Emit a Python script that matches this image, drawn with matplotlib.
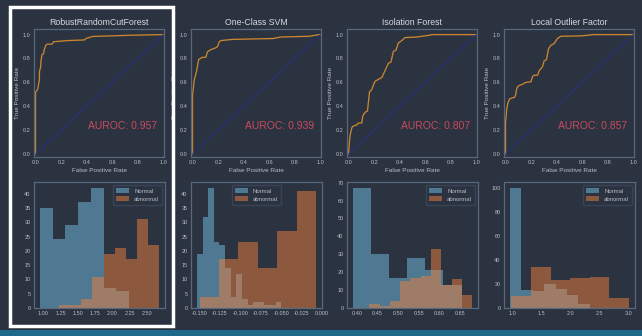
import numpy as np
import matplotlib.pyplot as plt
from matplotlib.patches import Rectangle

plt.rcParams['font.family'] = ['Liberation Sans', 'DejaVu Sans']

BG = '#2b3341'
TXT = '#b8bdc6'
SPINE = '#5a687c'

names = ["RobustRandomCutForest", "One-Class SVM", "Isolation Forest", "Local Outlier Factor"]
aurocs = [0.957, 0.939, 0.807, 0.857]

# ROC curves
fpr_rrcf = [0, 0, 0.01, 0.016, 0.02, 0.023, 0.03, 0.031, 0.04, 0.042, 0.05, 0.062, 0.07, 0.08,
            0.09, 0.13, 0.14, 0.25, 0.38, 0.40, 0.45, 0.61, 0.75, 1.0]
tpr_rrcf = [0, 0.52, 0.53, 0.54, 0.56, 0.58, 0.62, 0.69, 0.73, 0.77, 0.83, 0.84, 0.88, 0.91,
            0.92, 0.92, 0.94, 0.95, 0.955, 0.97, 0.985, 0.99, 0.995, 1.0]
fpr_svm = [0, 0, 0.005, 0.013, 0.021, 0.031, 0.039, 0.047, 0.06, 0.078, 0.104, 0.117, 0.144,
           0.183, 0.196, 0.209, 0.222, 0.313, 0.627, 0.692, 0.914, 0.99, 1.0]
tpr_svm = [0, 0.50, 0.535, 0.62, 0.65, 0.69, 0.74, 0.79, 0.80, 0.81, 0.81, 0.856, 0.875,
           0.89, 0.90, 0.94, 0.95, 0.96, 0.967, 0.98, 0.986, 1.0, 1.0]
fpr_if = [0, 0.008, 0.013, 0.026, 0.031, 0.065, 0.078, 0.104, 0.112, 0.13, 0.148, 0.164, 0.182,
          0.195, 0.208, 0.242, 0.26, 0.286, 0.312, 0.332, 0.351, 0.371, 0.39, 0.416, 0.442,
          0.532, 0.636, 0.649, 1.0]
tpr_if = [0, 0.12, 0.16, 0.22, 0.23, 0.245, 0.26, 0.26, 0.32, 0.35, 0.36, 0.52, 0.54,
          0.58, 0.61, 0.63, 0.64, 0.70, 0.76, 0.77, 0.86, 0.87, 0.93, 0.95, 0.975,
          0.98, 0.995, 1.0, 1.0]
fpr_lof = [0, 0, 0.01, 0.018, 0.031, 0.044, 0.07, 0.078, 0.088, 0.10, 0.134, 0.16, 0.199, 0.212,
           0.225, 0.251, 0.264, 0.289, 0.302, 0.32, 0.336, 0.354, 0.38, 0.406, 0.432, 0.587,
           0.69, 1.0]
tpr_lof = [0, 0.26, 0.38, 0.425, 0.46, 0.467, 0.475, 0.49, 0.55, 0.57, 0.585, 0.60, 0.605, 0.65,
           0.66, 0.66, 0.70, 0.73, 0.78, 0.79, 0.88, 0.91, 0.925, 0.967, 0.986, 0.989,
           1.0, 1.0]

# score histograms: bin edges and counts
n_edges_rrcf = [0.951, 1.135, 1.319, 1.503, 1.687, 1.871, 2.055, 2.239]
n_counts_rrcf = [35, 24, 29, 37, 42, 7, 6]
a_edges_rrcf = [1.228, 1.389, 1.550, 1.710, 1.871, 2.032, 2.193, 2.354, 2.514, 2.675]
a_counts_rrcf = [1, 1, 3, 11, 19, 21, 17, 31, 22]

n_edges_svm = [-0.1533, -0.1464, -0.1395, -0.1326, -0.1257, -0.1188, -0.1119, -0.1050,
               -0.0981, -0.0912, -0.0843, -0.0774, -0.0705, -0.0636, -0.0567, -0.0498]
n_counts_svm = [19, 32, 42, 23, 22, 14, 4, 12, 3, 1, 2, 2, 1, 1, 2]
a_edges_svm = [-0.150, -0.1262, -0.1025, -0.0787, -0.0549, -0.0311, -0.0073]
a_counts_svm = [4, 17, 23, 14, 27, 41]

n_edges_if = [0.3904, 0.4344, 0.4784, 0.5224, 0.5664, 0.6104, 0.6544]
n_counts_if = [67, 30, 17, 28, 21, 13]
a_edges_if = [0.4304, 0.4554, 0.4803, 0.5053, 0.5302, 0.5552, 0.5802, 0.6051, 0.6301, 0.6550, 0.680]
a_counts_if = [2, 1, 4, 15, 17, 18, 33, 13, 16, 7]

n_edges_lof = [0.948, 1.146, 1.343, 1.541, 1.739, 1.936, 2.134, 2.332]
n_counts_lof = [100, 15, 14, 20, 16, 11, 3]
a_edges_lof = [0.971, 1.311, 1.651, 1.991, 2.331, 2.672, 3.012]
a_counts_lof = [10, 34, 23, 25, 26, 8]

# x tick labels of the score histograms
ticks_rrcf = [1.00, 1.25, 1.50, 1.75, 2.00, 2.25, 2.50]
ticks_svm = [-0.150, -0.125, -0.100, -0.075, -0.050, -0.025, 0.000]
ticks_if = [0.40, 0.45, 0.50, 0.55, 0.60, 0.65]
ticks_lof = [1.0, 1.5, 2.0, 2.5, 3.0]

rocs = [(fpr_rrcf, tpr_rrcf), (fpr_svm, tpr_svm), (fpr_if, tpr_if), (fpr_lof, tpr_lof)]
hists = [(n_edges_rrcf, n_counts_rrcf, a_edges_rrcf, a_counts_rrcf),
         (n_edges_svm, n_counts_svm, a_edges_svm, a_counts_svm),
         (n_edges_if, n_counts_if, a_edges_if, a_counts_if),
         (n_edges_lof, n_counts_lof, a_edges_lof, a_counts_lof)]
hist_ticks = [ticks_rrcf, ticks_svm, ticks_if, ticks_lof]
hist_fmt = ['%.2f', '%.3f', '%.2f', '%.1f']
legend_locs = ['upper right', 'upper center', 'upper right', 'upper right']

W, H = 642, 336
fig = plt.figure(figsize=(W / 100, H / 100), dpi=100)
fig.patch.set_facecolor(BG)


def px_axes(x0, y0, x1, y1):
    return fig.add_axes([x0 / W, 1 - y1 / H, (x1 - x0) / W, (y1 - y0) / H])


def style(ax):
    ax.set_facecolor(BG)
    for s in ax.spines.values():
        s.set_color(SPINE)
        s.set_linewidth(0.9)
    ax.tick_params(labelsize=4, colors=TXT, length=0, pad=2.5)


lefts = [34, 191, 347, 504]
for i in range(4):
    x0 = lefts[i]
    ax = px_axes(x0, 29, x0 + 130, 157)
    style(ax)
    fpr, tpr = rocs[i]
    ax.plot(fpr, tpr, color='#c9852f', lw=0.95)
    ax.plot([0, 1], [0, 1], color='#26318a', lw=0.7)
    ax.set_xlim(-0.012, 1.005)
    ax.set_ylim(-0.025, 1.047)
    ax.set_xticks(np.arange(0, 1.01, 0.2))
    ax.set_yticks(np.arange(0, 1.01, 0.2))
    ax.set_title(names[i], fontsize=6.3, color='#d6d9de', pad=3)
    ax.set_xlabel('False Positive Rate', fontsize=4.6, color=TXT, labelpad=1.5)
    ax.set_ylabel('True Positive Rate', fontsize=4.6, color=TXT, labelpad=2)
    ax.text(0.95, 0.24, 'AUROC: %.3f' % aurocs[i], transform=ax.transAxes,
            ha='right', va='center', fontsize=7.5, color='#c84a5c')

    hx = px_axes(x0, 182, x0 + 131, 308)
    style(hx)
    ne, nc, ae, ac = hists[i]
    hx.stairs(nc, ne, fill=True, color='#74c0e6', alpha=0.5, label='Normal')
    hx.stairs(ac, ae, fill=True, color='#f0803c', alpha=0.5, label='abnormal')
    hx.set_xticks(hist_ticks[i], [hist_fmt[i] % t for t in hist_ticks[i]])
    hx.set_xlim(min(ne[0], ae[0]) - 0.05 * (max(ne[-1], ae[-1]) - min(ne[0], ae[0])),
                max(ne[-1], ae[-1]) + 0.05 * (max(ne[-1], ae[-1]) - min(ne[0], ae[0])))
    hx.legend(loc=legend_locs[i], fontsize=4.3, facecolor=BG, edgecolor='#3a4455',
              labelcolor=TXT, framealpha=1, handlelength=2.2, handleheight=1.0,
              borderpad=0.5, labelspacing=0.4)

# notebook framing: white selection box and teal bar
fig.patches.append(Rectangle((9.75 / W, 1 - 326.25 / H), 163.5 / W, 319.5 / H,
                             transform=fig.transFigure, fill=False, ec='white', lw=2.5))
fig.patches.append(Rectangle((0, 0), 1, 6 / H, transform=fig.transFigure,
                             color='#1d6a8a', lw=0))

fig.savefig('out.png', dpi=100, facecolor=fig.get_facecolor())
